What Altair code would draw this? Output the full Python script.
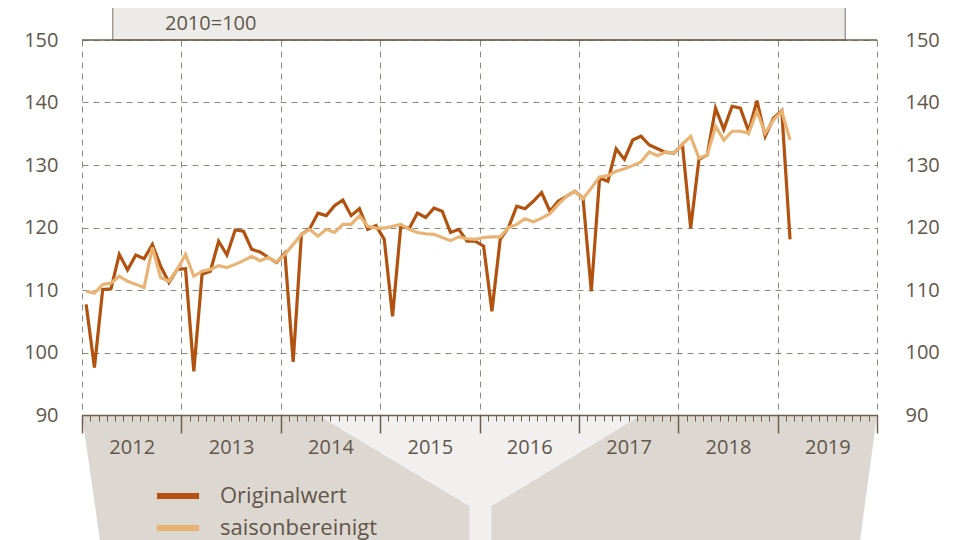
import altair as alt
import pandas as pd

# ---------------- data (index 2010 = 100), Jan 2012 .. Feb 2019 ----------------
start_year = 2012
original = [
    107.7, 97.6, 110.1, 110.2, 115.7, 113.2, 115.6, 115.0, 117.3, 113.8, 111.2, 113.3,   # 2012
    113.4, 97.0, 112.5, 113.0, 117.8, 115.6, 119.6, 119.4, 116.5, 116.1, 115.2, 114.4,   # 2013
    115.9, 98.5, 118.9, 119.8, 122.3, 121.9, 123.5, 124.4, 121.9, 123.0, 119.7, 120.3,   # 2014
    118.1, 105.8, 120.3, 119.8, 122.3, 121.6, 123.1, 122.6, 119.2, 119.7, 117.8, 117.8,  # 2015
    117.0, 106.6, 118.1, 120.0, 123.4, 123.0, 124.2, 125.6, 122.6, 124.2, 125.0, 125.8,  # 2016
    124.7, 109.8, 127.9, 127.4, 132.6, 130.9, 134.0, 134.6, 133.2, 132.6, 132.0, 131.9,  # 2017
    133.3, 119.9, 130.9, 131.6, 139.1, 135.7, 139.4, 139.1, 135.4, 140.3, 134.6, 137.5,  # 2018
    138.7, 118.1,                                                                          # 2019
]
saisonbereinigt = [
    109.8, 109.5, 110.9, 111.1, 112.2, 111.4, 110.9, 110.4, 116.8, 112.0, 111.4, 113.3,  # 2012
    115.7, 112.2, 113.0, 113.3, 113.9, 113.6, 114.1, 114.7, 115.4, 114.7, 115.2, 114.5,  # 2013
    115.7, 117.3, 118.9, 119.7, 118.6, 119.7, 119.2, 120.5, 120.5, 121.9, 120.2, 119.9,  # 2014
    119.9, 120.2, 120.5, 119.7, 119.2, 119.0, 118.9, 118.4, 117.9, 118.5, 118.2, 118.1,  # 2015
    118.4, 118.5, 118.5, 120.0, 120.5, 121.4, 120.9, 121.5, 122.2, 123.7, 125.0, 125.8,  # 2016
    124.6, 126.3, 128.1, 128.3, 129.0, 129.4, 129.9, 130.5, 132.1, 131.5, 132.1, 131.9,  # 2017
    133.3, 134.6, 131.1, 131.6, 136.2, 134.0, 135.4, 135.4, 135.1, 138.6, 135.1, 137.2,  # 2018
    138.6, 134.0,                                                                          # 2019
]
year_ticks = [2012, 2013, 2014, 2015, 2016, 2017, 2018, 2019, 2020]
y_ticks = [90, 100, 110, 120, 130, 140, 150]
series_names = ["Originalwert", "saisonbereinigt"]
subtitle = "2010=100"
subtitle_pos = [2012.835, 152.6]   # annotation anchor (year, index)

# decorative background shapes (in axis units: years / index points)
bg_left_x = [2012.0, 2012.18, 2014.37, 2015.90]
bg_left_top = [90, 90, 90, 75.4]
bg_left_bottom = [90, 70, 70, 70]
bg_right_x = [2016.12, 2017.63, 2019.83, 2020.0]
bg_right_top = [75.4, 90, 90, 90]
bg_right_bottom = [70, 70, 70, 90]
wedge_x = [2014.37, 2017.63]
wedge_y = [70, 90]
header_x = [2012.31, 2019.68]
header_y = [150, 157]

# ---------------- styling ----------------
DARK = "#b1520f"
LIGHT = "#e9b473"
TEXT = "#625649"
AXIS = "#6e5e4c"
GRID = "#8e8882"
BEIGE = "#ddd7d1"
FONT = "Open Sans"

periods = pd.period_range(f"{start_year}-01", periods=len(original), freq="M")
pos = [p.year + (p.month - 0.5) / 12 for p in periods]  # middle of each month
df_orig = pd.DataFrame({"t": pos, "v": original})
df_sa = pd.DataFrame({"t": pos, "v": saisonbereinigt})

xs = alt.Scale(domain=[year_ticks[0], year_ticks[-1]], nice=False, zero=False)
ys = alt.Scale(domain=[y_ticks[0], y_ticks[-1]], nice=False, zero=False)

month_ticks = [year_ticks[0] + k / 12 for k in range(12 * (len(year_ticks) - 1) + 1)]

grid_axis = alt.Axis(orient="bottom", values=year_ticks, grid=True, gridColor=GRID,
                     gridDash=[6, 5], gridWidth=1, ticks=False, labels=False,
                     domain=False, title=None, zindex=0)
year_axis = alt.Axis(orient="bottom", values=year_ticks, grid=False, ticks=True,
                     tickSize=18, tickColor=AXIS, tickWidth=1.5, domain=True,
                     domainColor=AXIS, domainWidth=1.5, labels=True, format="d",
                     labelExpr="datum.value >= 2020 ? '' : datum.label",
                     labelOffset=49.7, labelPadding=4, labelFlush=False,
                     labelOverlap=False, labelFont=FONT, labelFontSize=20,
                     labelColor=TEXT, title=None, zindex=1)
month_axis = alt.Axis(orient="bottom", values=month_ticks, grid=False, ticks=True,
                      tickSize=6, tickColor=AXIS, tickWidth=1, domain=False,
                      labels=False, title=None, zindex=1)
left_axis = alt.Axis(orient="left", values=y_ticks, grid=True, gridColor=GRID,
                     gridDash=[6, 5], gridWidth=1, ticks=False, domain=False,
                     labelPadding=24, labelFont=FONT, labelFontSize=20,
                     labelColor=TEXT, format="d", title=None, zindex=0)
right_axis = alt.Axis(orient="right", values=y_ticks, grid=False, ticks=False,
                      domain=False, labelPadding=28, labelFont=FONT, labelFontSize=20,
                      labelColor=TEXT, format="d", title=None, zindex=0)

one_row = pd.DataFrame({"a": [0]})

wedge = alt.Chart(one_row).mark_rect(fill="#f1f0ee").encode(
    x=alt.XDatum(wedge_x[0], scale=xs, axis=None), x2=alt.X2Datum(wedge_x[1]),
    y=alt.YDatum(wedge_y[0], scale=ys, axis=None), y2=alt.Y2Datum(wedge_y[1]),
)
bg_left = alt.Chart(pd.DataFrame({"x": bg_left_x, "top": bg_left_top, "bottom": bg_left_bottom})).mark_area(
    color=BEIGE).encode(
    x=alt.X("x:Q", scale=xs, axis=None),
    y=alt.Y("top:Q", scale=ys, axis=None),
    y2="bottom:Q",
)
bg_right = alt.Chart(pd.DataFrame({"x": bg_right_x, "top": bg_right_top, "bottom": bg_right_bottom})).mark_area(
    color=BEIGE).encode(
    x=alt.X("x:Q", scale=xs, axis=None),
    y=alt.Y("top:Q", scale=ys, axis=None),
    y2="bottom:Q",
)
header = alt.Chart(one_row).mark_rect(fill="#ecebe8", stroke="#7d7166", strokeWidth=1).encode(
    x=alt.XDatum(header_x[0], scale=xs, axis=None), x2=alt.X2Datum(header_x[1]),
    y=alt.YDatum(header_y[0], scale=ys, axis=None), y2=alt.Y2Datum(header_y[1]),
)
subtitle_text = alt.Chart(one_row).mark_text(
    text=subtitle, align="left", baseline="middle", font=FONT, fontSize=20, color=TEXT
).encode(
    x=alt.XDatum(subtitle_pos[0], scale=xs, axis=None),
    y=alt.YDatum(subtitle_pos[1], scale=ys, axis=None),
)

line_orig = alt.Chart(df_orig).mark_line(strokeWidth=3.2).encode(
    x=alt.X("t:Q", scale=xs, axis=grid_axis),
    y=alt.Y("v:Q", scale=ys, axis=left_axis),
    color=alt.ColorDatum(series_names[0], title=None),
)
line_sa = alt.Chart(df_sa).mark_line(strokeWidth=3.2).encode(
    x=alt.X("t:Q", scale=xs, axis=year_axis),
    y=alt.Y("v:Q", scale=ys, axis=right_axis),
    color=alt.ColorDatum(series_names[1], title=None),
)
top_rule = alt.Chart(one_row).mark_rule(color=AXIS, strokeWidth=1.5).encode(
    x=alt.XDatum(year_ticks[0], scale=xs, axis=month_axis),
    x2=alt.X2Datum(year_ticks[-1]),
    y=alt.YDatum(y_ticks[-1], scale=ys, axis=None),
)

chart = alt.layer(
    wedge, bg_left, bg_right, header, subtitle_text, line_orig, line_sa, top_rule
).resolve_axis(
    x="independent", y="independent"
).properties(
    width=795, height=375,
    autosize=alt.AutoSizeParams(type="none"),
    padding={"left": 74, "top": 32, "right": 75, "bottom": 125},
).configure_view(
    stroke=None
).configure_range(
    category=[DARK, LIGHT]
).configure_legend(
    orient="none", legendX=76, legendY=436, direction="vertical",
    symbolType="M-1.24,0H1.24", symbolSize=1156, symbolStrokeWidth=6,
    labelFont=FONT, labelFontSize=22, labelColor=TEXT, labelOffset=22,
    rowPadding=0, padding=0,
)

chart.save("out.html", embed_options={"renderer": "svg", "actions": False})
